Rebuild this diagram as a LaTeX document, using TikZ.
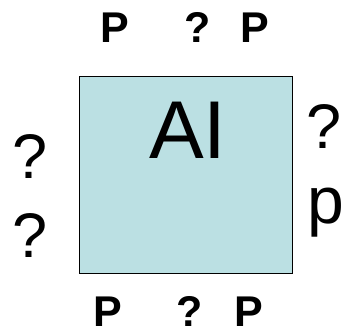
\documentclass[tikz,border=0pt]{standalone}
\usepackage{fontspec}
\setmainfont{Liberation Sans}
\definecolor{boxblue}{HTML}{BBE0E3}
\tikzstyle{agent} = [rectangle, minimum width=213pt, minimum height=197pt, draw=black, fill=boxblue, line width=0.8pt]
\tikzstyle{percept} = [inner sep=0pt, anchor=base, font=\fontsize{43}{43}\selectfont\bfseries]
\tikzstyle{query} = [inner sep=0pt, anchor=base, font=\fontsize{63}{63}\selectfont]
\tikzstyle{title} = [inner sep=0pt, anchor=base, font=\fontsize{82}{82}\selectfont]

\begin{document}
\begin{tikzpicture}[x=1pt, y=-1pt]
\useasboundingbox (0,0) rectangle (347,334);

% Box
\node (ai) [agent] at (185.5,174.5) {};
\node (label) [title] at (188,158) {AI};

% Top and bottom
\node (topl) [percept] at (114.5,43) {P};
\node (topq) [percept] at (197.5,43) {?};
\node (topr) [percept] at (255,43) {P};
\node (botl) [percept] at (107.5,326) {P};
\node (botq) [percept] at (190,326) {?};
\node (botr) [percept] at (249,326) {P};

% Left and right
\node (leftu) [query] at (30,178) {?};
\node (leftd) [query] at (30,257) {?};
\node (rightq) [query] at (324,148) {?};
\node (rightp) [query, font=\fontsize{66}{66}\selectfont] at (326,223) {p};

\end{tikzpicture}
\end{document}
